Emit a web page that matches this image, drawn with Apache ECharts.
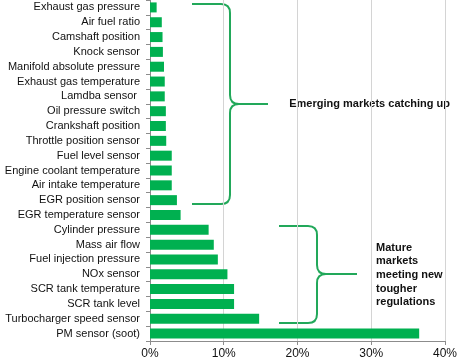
<!DOCTYPE html>
<html>
<head>
<meta charset="utf-8">
<script src="https://cdn.jsdelivr.net/npm/echarts@6/dist/echarts.min.js"></script>
<style>html,body{margin:0;padding:0;background:#fff;}#c{width:460px;height:360px;}</style>
</head>
<body>
<div id="c"></div>
<script>
var categories = [
  "Exhaust gas pressure", "Air fuel ratio", "Camshaft position", "Knock sensor",
  "Manifold absolute pressure", "Exhaust gas temperature", "Lamdba sensor ",
  "Oil pressure switch", "Crankshaft position", "Throttle position sensor",
  "Fuel level sensor", "Engine coolant temperature", "Air intake temperature",
  "EGR position sensor", "EGR temperature sensor", "Cylinder pressure",
  "Mass air flow", "Fuel injection pressure", "NOx sensor", "SCR tank temperature",
  "SCR tank level", "Turbocharger speed sensor", "PM sensor (soot)"
];
var values = [0.9, 1.6, 1.7, 1.75, 1.9, 2.0, 2.0, 2.15, 2.15, 2.2, 2.95, 2.95, 2.95,
  3.65, 4.15, 7.95, 8.65, 9.2, 10.5, 11.4, 11.4, 14.8, 36.5];
var xTicks = [0, 10, 20, 30, 40];
var annotation1 = "Emerging markets catching up";
var annotation2 = "Mature\nmarkets\nmeeting new\ntougher\nregulations";

var chart = echarts.init(document.getElementById('c'), null, {renderer: 'canvas'});
var font = 'Arial, "Liberation Sans", sans-serif';
var braceColor = '#22a85a';

function brace(xl, xs, xt, y0, ym, y1) {
  var r = 9;
  var st = {stroke: braceColor, lineWidth: 2, fill: null};
  function ln(a, b, c, d) { return {type: 'line', shape: {x1: a, y1: b, x2: c, y2: d}, style: st}; }
  function bz(a, b, cx, cy, c, d) { return {type: 'bezierCurve', shape: {x1: a, y1: b, cpx1: cx, cpy1: cy, x2: c, y2: d}, style: st}; }
  return [
    ln(xl, y0, xs - r, y0),
    bz(xs - r, y0, xs, y0, xs, y0 + r),
    ln(xs, y0 + r, xs, ym - r),
    bz(xs, ym - r, xs, ym, xs + r, ym),
    ln(xs + r, ym, xt, ym),
    bz(xs, ym + r, xs, ym, xs + r, ym),
    ln(xs, ym + r, xs, y1 - r),
    bz(xs, y1 - r, xs, y1, xs - r, y1),
    ln(xs - r, y1, xl, y1)
  ];
}

var graphics = [].concat(
  brace(192, 230, 268, 4, 104, 204),
  brace(279, 317, 357, 226, 274, 323),
  [
    {type: 'text', x: 450, y: 104, style: {text: annotation1, font: 'bold 11px ' + font, fill: '#111', verticalAlign: 'middle', align: 'right', width: 200, overflow: 'none'}},
    {type: 'text', x: 376, y: 241, style: {text: annotation2, font: 'bold 11px ' + font, fill: '#111', lineHeight: 13.6, verticalAlign: 'top', align: 'left'}}
  ]
);

chart.setOption({
  animation: false,
  grid: {left: 150, right: 12, top: 0, bottom: 18, containLabel: false},
  xAxis: {
    type: 'value', min: xTicks[0], max: xTicks[xTicks.length - 1], interval: 10,
    axisLine: {show: true, lineStyle: {color: '#8c8c8c', width: 1}},
    axisTick: {show: true, length: 4, lineStyle: {color: '#8c8c8c'}},
    axisLabel: {formatter: '{value}%', fontFamily: font, fontSize: 12, color: '#111', margin: 7},
    splitLine: {show: true, lineStyle: {color: '#d4d4d4', width: 1}}
  },
  yAxis: {
    type: 'category', data: categories, inverse: true,
    axisLine: {show: true, lineStyle: {color: '#8c8c8c', width: 1}},
    axisTick: {show: true, length: 4, lineStyle: {color: '#8c8c8c'}},
    axisLabel: {fontFamily: font, fontSize: 11, color: '#111', margin: 10, interval: 0},
    splitLine: {show: false}
  },
  series: [{
    type: 'bar', data: values, barWidth: 10,
    itemStyle: {color: '#00b050'}
  }],
  graphic: graphics
});
</script>
</body>
</html>
